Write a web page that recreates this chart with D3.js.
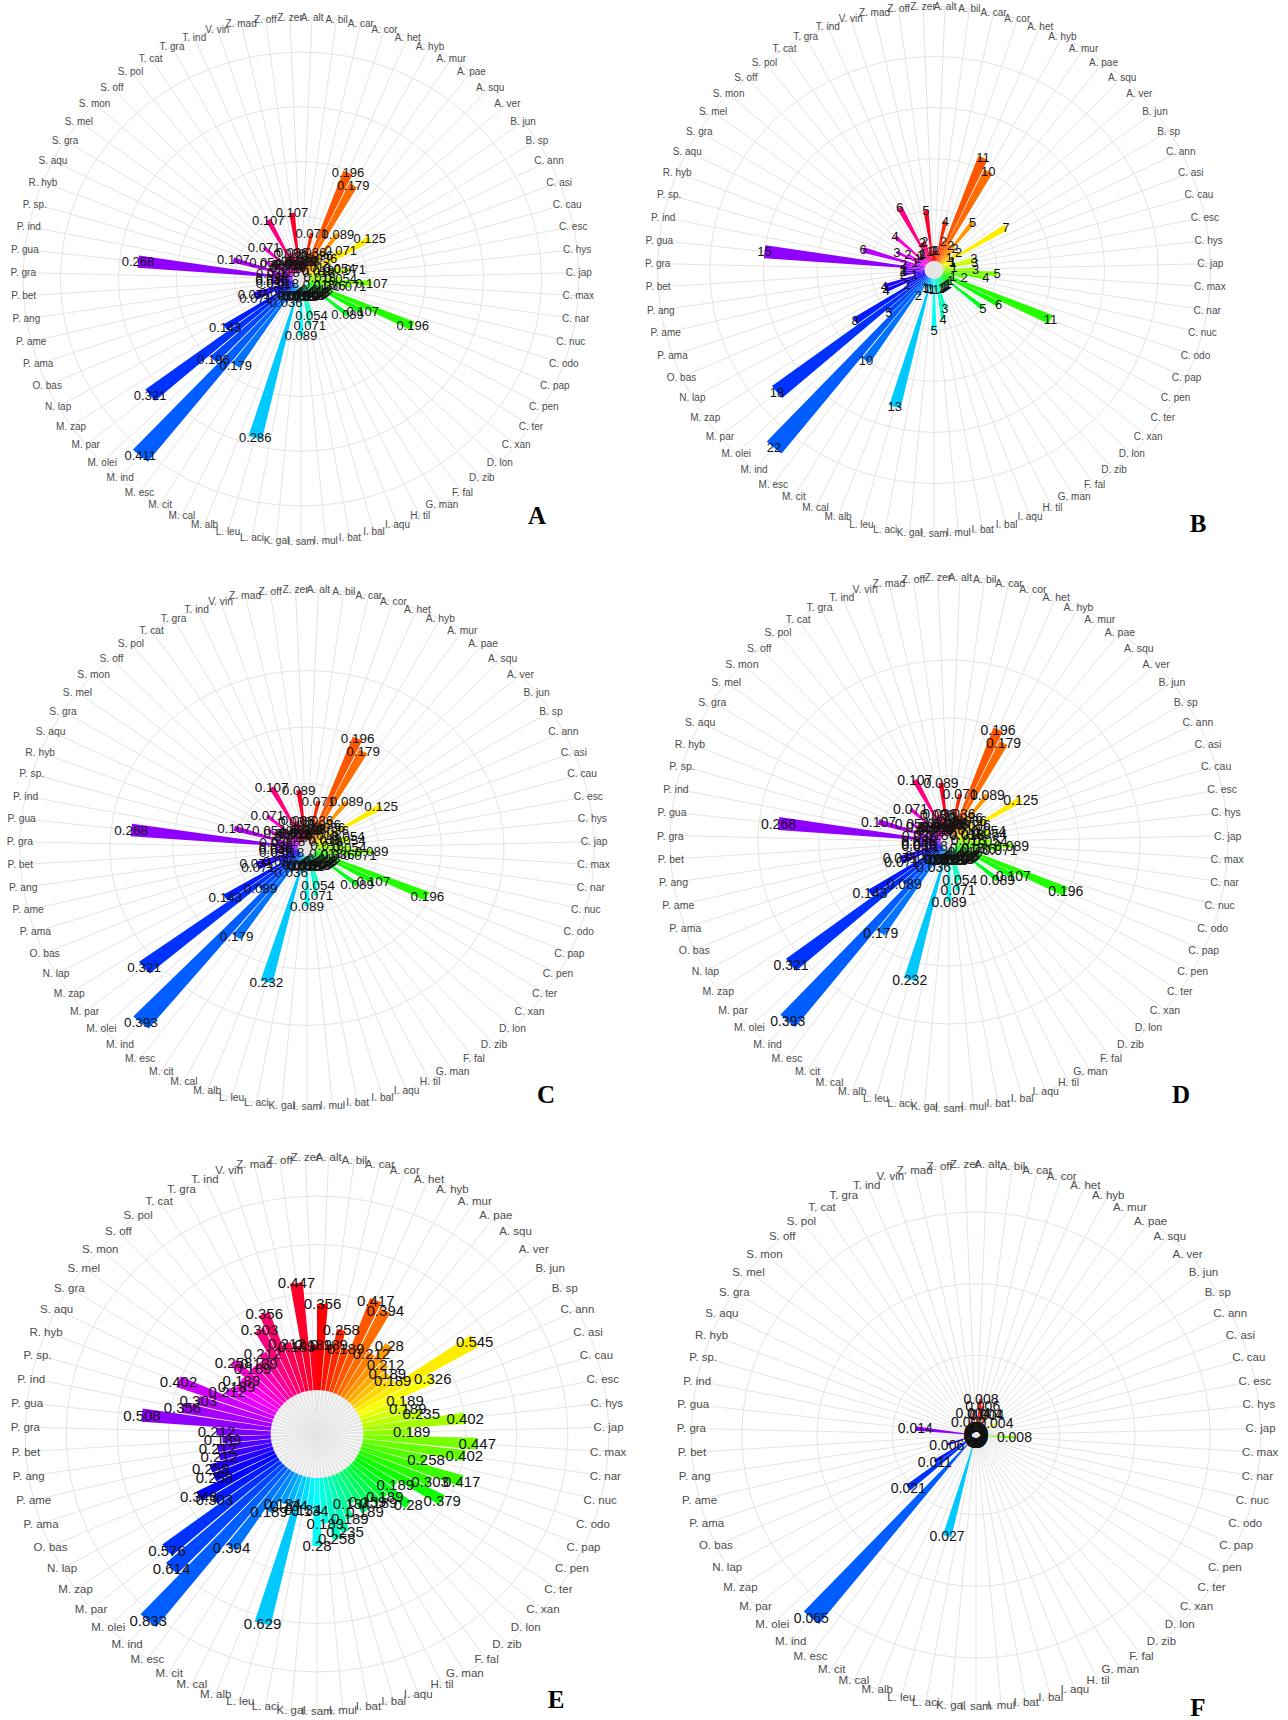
<!DOCTYPE html>
<html><head><meta charset="utf-8">
<script src="https://cdn.jsdelivr.net/npm/d3@7"></script>
<style>body{margin:0;background:#fff;} svg{display:block;}</style>
</head><body>
<svg id="chart" width="1288" height="1720"></svg>
<script>
const categories = ["A. alt","A. bil","A. car","A. cor","A. het","A. hyb","A. mur","A. pae","A. squ","A. ver",
 "B. jun","B. sp","C. ann","C. asi","C. cau","C. esc","C. hys","C. jap","C. max","C. nar",
 "C. nuc","C. odo","C. pap","C. pen","C. ter","C. xan","D. lon","D. zib","F. fal","G. man",
 "H. til","I. aqu","I. bal","I. bat","I. mul","I. sam","K. gal","L. aci","L. leu","M. alb",
 "M. cal","M. cit","M. esc","M. ind","M. olei","M. par","M. zap","N. lap","O. bas","P. ama",
 "P. ame","P. ang","P. bet","P. gra","P. gua","P. ind","P. sp.","R. hyb","S. aqu","S. gra",
 "S. mel","S. mon","S. off","S. pol","T. cat","T. gra","T. ind","V. vin","Z. mad","Z. off",
 "Z. zer"];

const valuesA = [0.018,0.018,0.071,0.036,0.196,0.179,0.036,0.089,0.036,0.018,
 0.071,0.125,0.018,0.018,0.054,0.071,0.018,0.054,0.107,0.071,
 0.036,0.018,0.196,0.107,0.018,0.089,0.018,0.018,0.018,0.018,
 0.018,0.018,0.054,0.071,0.018,0.089,0.018,0.018,0.286,0.018,
 0.018,0.036,0.179,0.411,0.196,0.321,0.143,0.036,0.071,0.071,
 0.018,0.036,0.036,0.036,0.268,0.036,0.107,0.018,0.054,0.036,
 0.018,0.071,0.018,0.018,0.018,0.107,0.036,0.036,0.018,0.107,
 0.018];

const valuesB = [1,1,4,2,11,10,2,5,2,1,
 2,7,1,1,3,3,1,3,5,4,
 2,1,11,6,1,5,1,1,1,1,
 1,1,3,4,1,5,1,1,13,1,
 1,2,10,22,5,18,8,2,4,4,
 1,2,2,2,15,2,6,1,3,2,
 1,4,1,1,1,6,2,2,1,5,
 1];

const valuesC = [0.018,0.018,0.071,0.036,0.196,0.179,0.036,0.089,0.036,0.018,
 0.036,0.125,0.018,0.018,0.054,0.054,0.018,0.054,0.089,0.071,
 0.036,0.018,0.196,0.107,0.018,0.089,0.018,0.018,0.018,0.018,
 0.018,0.018,0.054,0.071,0.018,0.089,0.018,0.018,0.232,0.018,
 0.018,0.036,0.179,0.393,0.089,0.321,0.143,0.036,0.071,0.071,
 0.018,0.036,0.036,0.036,0.268,0.036,0.107,0.018,0.054,0.036,
 0.018,0.071,0.018,0.018,0.018,0.107,0.036,0.036,0.018,0.089,
 0.018];

const valuesD = [0.018,0.018,0.071,0.036,0.196,0.179,0.036,0.089,0.036,0.018,
 0.036,0.125,0.018,0.018,0.054,0.054,0.018,0.054,0.089,0.071,
 0.036,0.018,0.196,0.107,0.018,0.089,0.018,0.018,0.018,0.018,
 0.018,0.018,0.054,0.071,0.018,0.089,0.018,0.018,0.232,0.018,
 0.018,0.036,0.179,0.393,0.089,0.321,0.143,0.036,0.071,0.071,
 0.018,0.036,0.036,0.036,0.268,0.036,0.107,0.018,0.054,0.036,
 0.018,0.071,0.018,0.018,0.018,0.107,0.036,0.036,0.018,0.089,
 0.018];

const valuesE = [0.356,0.189,0.258,0.189,0.417,0.394,0.212,0.28,0.212,0.189,
 0.189,0.545,0.326,0.189,0.189,0.235,0.402,0.189,0.447,0.402,
 0.258,0.417,0.303,0.379,0.189,0.28,0.189,0.189,0.159,0.189,
 0.134,0.189,0.235,0.258,0.189,0.28,0.134,0.134,0.629,0.134,
 0.134,0.189,0.394,0.833,0.614,0.576,0.303,0.348,0.258,0.258,
 0.212,0.212,0.189,0.212,0.508,0.356,0.303,0.402,0.212,0.189,
 0.189,0.258,0.189,0.189,0.212,0.303,0.356,0.212,0.189,0.447,
 0.189];

const valuesF = [0,0.008,0.006,0,0.004,0.004,0,0,0,0,
 0,0.004,0,0,0,0,0,0,0.008,0,
 0,0,0,0,0,0,0,0,0,0,
 0,0,0,0,0,0,0,0,0.027,0,
 0,0,0,0.065,0,0.021,0.011,0,0,0.006,
 0,0,0,0,0.014,0,0,0,0,0,
 0,0,0,0,0,0.002,0,0,0,0.004,
 0];

const ticksA = [0, 0.1, 0.2, 0.3, 0.4];
const ticksB = [0, 5, 10, 15, 20];
const ticksC = [0, 0.1, 0.2, 0.3];
const ticksD = [0, 0.1, 0.2, 0.3];
const ticksE = [0, 0.2, 0.4, 0.6, 0.8];
const ticksF = [0, 0.02, 0.04, 0.06];
const panelLetters = ["A","B","C","D","E","F"];

const panels = [
  {values: valuesA, ticks: ticksA, cx: 301, cy: 279, R: 233, sx: 1.06, hole: 8, vfs: 13, cfs: 10, lx: 537, ly: 524},
  {values: valuesB, ticks: ticksB, cx: 934, cy: 270, R: 234, sx: 1.05, hole: 9, vfs: 13, cfs: 10, lx: 1198, ly: 532},
  {values: valuesC, ticks: ticksC, cx: 307, cy: 848, R: 230, sx: 1.11, hole: 8, vfs: 13.5, cfs: 10.3, lx: 546, ly: 1103},
  {values: valuesD, ticks: ticksD, cx: 949, cy: 842, R: 236, sx: 1.05, hole: 8, vfs: 14, cfs: 10.5, lx: 1181, ly: 1103},
  {values: valuesE, ticks: ticksE, cx: 317, cy: 1434, R: 246, sx: 1.054, hole: 44, vfs: 15, cfs: 11.5, lx: 556, ly: 1708},
  {values: valuesF, ticks: ticksF, cx: 976, cy: 1435, R: 241, sx: 1.05, hole: 8, vfs: 14, cfs: 11.5, lx: 1198, ly: 1716}
];

const svg = d3.select("#chart");
const ang = d3.scaleBand().domain(categories).range([0, 2 * Math.PI]).paddingInner(0.1).paddingOuter(0);
const bw = ang.bandwidth();
const step = ang.step();
const mid = c => ang(c) + bw / 2;
const hue = d3.scaleLinear().domain([0, categories.length]).range([0, 360]);
const color = i => d3.hsl(hue(i), 1, 0.5).formatHex();

panels.forEach((p, pi) => {
  const ymax = d3.max(p.values);
  const ymin = -p.hole / (p.R - p.hole) * ymax;
  const r = d3.scaleLinear().domain([ymin, ymax]).range([0, p.R]);
  const rLab = p.R * 1.125;
  const g = svg.append("g").attr("transform", `translate(${p.cx},${p.cy})`);
  const geo = g.append("g").attr("transform", `scale(${p.sx},1)`);

  geo.selectAll("circle.grid").data(p.ticks.map(t => r(t)).concat([rLab]))
    .join("circle").attr("r", d => d).attr("fill", "none")
    .attr("stroke", "#e4e4e4").attr("stroke-width", 1).attr("vector-effect", "non-scaling-stroke");

  geo.selectAll("line.spoke").data(categories).join("line")
    .attr("x1", 0).attr("y1", 0)
    .attr("x2", c => rLab * Math.sin(mid(c)))
    .attr("y2", c => -rLab * Math.cos(mid(c)))
    .attr("stroke", "#e4e4e4").attr("stroke-width", 1).attr("vector-effect", "non-scaling-stroke");

  const hubArc = d3.arc().innerRadius(0).outerRadius(r(0))
    .startAngle(c => mid(c) - step * 0.36).endAngle(c => mid(c) + step * 0.36);
  geo.selectAll("path.hub").data(categories).join("path")
    .attr("d", hubArc).attr("fill", "#e6e6e6");

  const barArc = d3.arc().innerRadius(r(0)).outerRadius((c, i) => r(p.values[i]))
    .startAngle(c => ang(c)).endAngle(c => ang(c) + bw);
  geo.selectAll("path.bar").data(categories).join("path")
    .attr("d", (c, i) => p.values[i] > 0 ? barArc(c, i) : null)
    .attr("fill", (c, i) => color(i));

  g.selectAll("text.val").data(categories).join("text")
    .attr("x", (c, i) => p.sx * r(p.values[i]) * Math.sin(mid(c)))
    .attr("y", (c, i) => -r(p.values[i]) * Math.cos(mid(c)))
    .attr("text-anchor", "middle").attr("dominant-baseline", "central")
    .attr("font-family", "Liberation Sans, Arial, sans-serif")
    .attr("font-size", p.vfs).attr("fill", "#111")
    .text((c, i) => String(p.values[i]));

  g.selectAll("text.cat").data(categories).join("text")
    .attr("x", c => p.sx * rLab * Math.sin(mid(c)))
    .attr("y", c => -rLab * Math.cos(mid(c)))
    .attr("text-anchor", "middle").attr("dominant-baseline", "central")
    .attr("font-family", "Liberation Sans, Arial, sans-serif")
    .attr("font-size", p.cfs).attr("fill", "#4d4d4d")
    .text(c => c);

  svg.append("text").attr("x", p.lx).attr("y", p.ly)
    .attr("text-anchor", "middle")
    .attr("font-family", "Liberation Serif, Times New Roman, serif")
    .attr("font-weight", "bold").attr("font-size", 25).attr("fill", "#000")
    .text(panelLetters[pi]);
});
</script>
</body></html>
